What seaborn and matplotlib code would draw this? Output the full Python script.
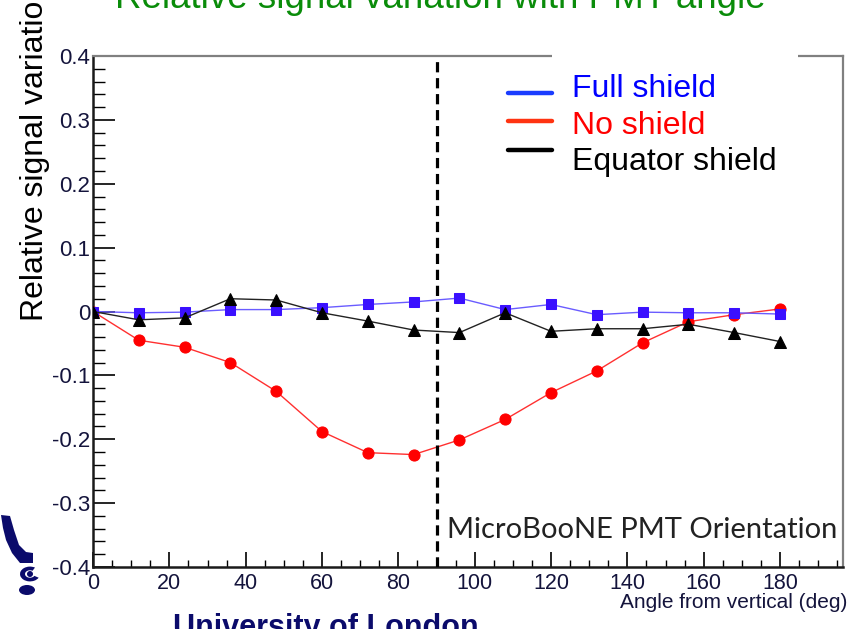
import matplotlib
matplotlib.use("Agg")
import matplotlib.pyplot as plt
import seaborn as sns
from matplotlib.lines import Line2D
from matplotlib.patches import Rectangle, Polygon, Ellipse, Wedge, Circle
from matplotlib.ticker import MultipleLocator, FuncFormatter

sns.set_theme(style="white")
plt.rcParams['font.family'] = ['Liberation Sans', 'DejaVu Sans']

# ---------------------------------------------------------------
# data
# ---------------------------------------------------------------
angles = [0, 12, 24, 36, 48, 60, 72, 84, 96, 108, 120, 132, 144, 156, 168, 180]
full_shield = [0.0, -0.002, -0.001, 0.003, 0.003, 0.006, 0.011, 0.015, 0.021,
               0.003, 0.011, -0.005, -0.001, -0.002, -0.002, -0.004]
no_shield = [0.0, -0.045, -0.056, -0.080, -0.125, -0.188, -0.221, -0.224, -0.201,
             -0.169, -0.127, -0.093, -0.049, -0.016, -0.005, 0.004]
equator_shield = [0.0, -0.013, -0.010, 0.020, 0.018, -0.002, -0.015, -0.029, -0.033,
                  -0.002, -0.031, -0.027, -0.027, -0.020, -0.033, -0.047]
series_labels = ["Full shield", "No shield", "Equator shield"]

W, H = 848, 629
fig = plt.figure(figsize=(W / 100, H / 100), dpi=100)
ax = fig.add_axes([93 / W, 1 - 567 / H, 750 / W, 511 / H])

def fx(px):
    return px / W

def fy(py):
    return 1 - py / H

# ---------------------------------------------------------------
# series
# ---------------------------------------------------------------
sns.lineplot(x=angles, y=no_shield, ax=ax, color="#ff3030", lw=1.0,
             marker="o", markersize=8, markerfacecolor="#ff0000",
             markeredgecolor="#ff0000", zorder=3)
sns.lineplot(x=angles, y=full_shield, ax=ax, color="#6a5cff", lw=1.0,
             marker="s", markersize=7.5, markerfacecolor="#3a10ff",
             markeredgecolor="#3a10ff", zorder=4)
sns.lineplot(x=angles, y=equator_shield, ax=ax, color="#222222", lw=1.0,
             marker="^", markersize=8, markerfacecolor="black",
             markeredgecolor="black", zorder=5)

ax.axvline(90, color="black", lw=2.3, ls=(0, (3.2, 1.8)), zorder=6)

ax.set_xlim(0, 196.5)
ax.set_ylim(-0.4, 0.4)
ax.xaxis.set_major_locator(MultipleLocator(20))
ax.xaxis.set_minor_locator(MultipleLocator(5))
ax.yaxis.set_major_locator(MultipleLocator(0.1))
ax.yaxis.set_minor_locator(MultipleLocator(0.02))
ax.xaxis.set_major_formatter(FuncFormatter(lambda v, p: f"{v:g}" if v <= 180 else ""))
ax.yaxis.set_major_formatter(FuncFormatter(lambda v, p: f"{round(v, 2):g}"))

ax.tick_params(axis="x", which="major", direction="in", length=11, width=1.2,
               labelsize=15.5, pad=4, bottom=True, top=False, colors="black")
ax.tick_params(axis="x", which="minor", direction="in", length=5, width=1.0,
               bottom=True, top=False, colors="black")
ax.tick_params(axis="y", which="major", direction="in", length=16, width=1.2,
               labelsize=16, pad=2, left=True, right=False, colors="black")
ax.tick_params(axis="y", which="minor", direction="in", length=8.5, width=1.0,
               left=True, right=False, colors="black")
for lab in ax.get_xticklabels() + ax.get_yticklabels():
    lab.set_color("#14143c")

for side in ["left", "bottom"]:
    ax.spines[side].set_color("#1a1a1a")
    ax.spines[side].set_linewidth(1.8)
for side in ["top", "right"]:
    ax.spines[side].set_color("#808080")
    ax.spines[side].set_linewidth(1.6)

ax.set_xlabel("")
ax.set_ylabel("")
ax.text((447 - 93) / 750, (567 - 538) / 511, "MicroBooNE PMT Orientation",
        transform=ax.transAxes, fontsize=21, family=["Lato", "DejaVu Sans"],
        color="#222222", ha="left", va="baseline")

# axis titles / slide text
fig.text(fx(847), fy(593), "Angle from vertical (deg)", fontsize=15,
         ha="right", va="top", color="#14143c")
fig.text(fx(35), fy(321), "Relative signal variation", fontsize=23,
         rotation=90, ha="center", va="bottom", color="black")
fig.text(fx(440), fy(7.5), "Relative signal variation with PMT angle",
         fontsize=26.5, color="#0a8c0a", ha="center", va="baseline")
fig.text(fx(173), fy(636), "University of London", fontsize=22,
         weight="bold", color="#0b0b6b", ha="left", va="baseline")

# legend overlay box
fig.add_artist(Rectangle((fx(552), fy(185)), fx(798) - fx(552), fy(53) - fy(185),
                         transform=fig.transFigure, facecolor="white",
                         edgecolor="none", zorder=10))
leg_colors = ["#1a3cff", "#ff3311", "black"]
text_colors = ["#0000ff", "#ff0000", "black"]
line_y = [93, 121, 150]
text_base = [97, 134, 170]
for lab, lc, tc, ly, tb in zip(series_labels, leg_colors, text_colors, line_y, text_base):
    fig.add_artist(Line2D([fx(508), fx(552)], [fy(ly), fy(ly)], color=lc, lw=3.2,
                          transform=fig.transFigure, zorder=11))
    fig.text(fx(572), fy(tb), lab, fontsize=23, color=tc, ha="left",
             va="baseline", zorder=12)

# rough college crest at the bottom left
navy = "#0b0b6b"
leaf = [(1, 515), (10, 516), (14, 530), (19, 545), (26, 552), (33, 553), (33, 563),
        (20, 563), (12, 553), (6, 540), (3, 528)]
fig.add_artist(Polygon([(fx(a), fy(b)) for a, b in leaf], closed=True,
                       transform=fig.transFigure, facecolor=navy, edgecolor="none"))
fig.add_artist(Wedge((fx(30), fy(574)), fx(10), 60, 330, width=fx(5),
                     transform=fig.transFigure, facecolor=navy, edgecolor="none"))
fig.add_artist(Ellipse((fx(30), fy(574)), fx(6), 6 / H,
                       transform=fig.transFigure, facecolor=navy, edgecolor="none"))
fig.add_artist(Ellipse((fx(27), fy(590)), fx(16), 10 / H,
                       transform=fig.transFigure, facecolor=navy, edgecolor="none"))

fig.savefig("out.png", dpi=100)
